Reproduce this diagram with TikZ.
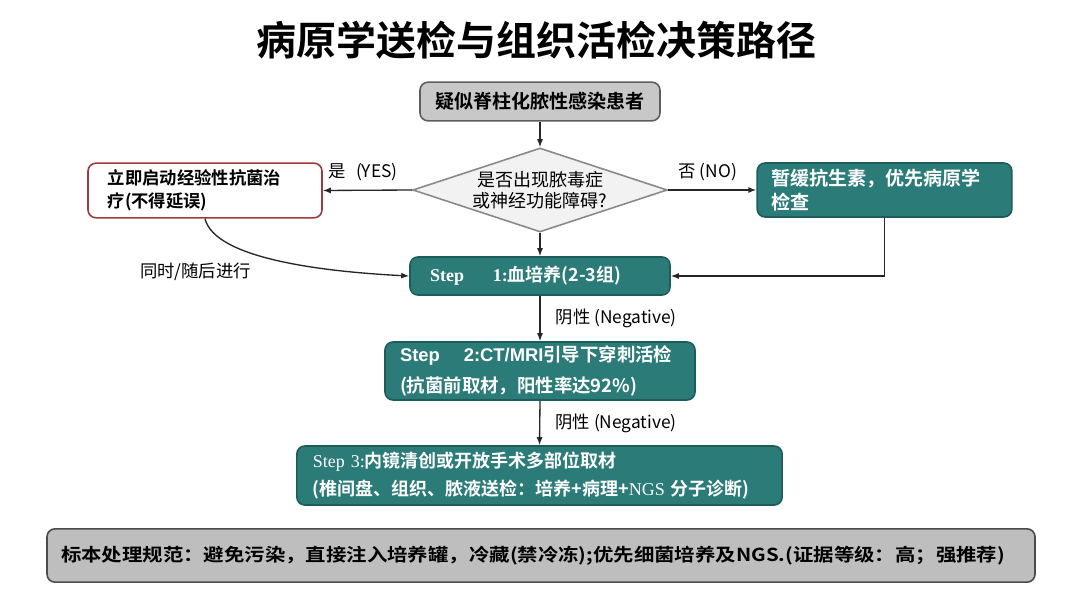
\documentclass[tikz,border=0pt]{standalone}
\usepackage{fontspec}
\setmainfont{Noto Sans CJK SC}[BoldFont={Noto Sans CJK SC Bold}]
\newfontfamily\enserif{Liberation Serif}
\newfontfamily\ensans{Liberation Sans}
\usetikzlibrary{shapes.geometric,arrows.meta}
\definecolor{teal1}{HTML}{2B7B79}
\definecolor{teal2}{HTML}{1E5C5A}
\definecolor{grayfill}{HTML}{C8C8C8}
\definecolor{grayline}{HTML}{5E5E5E}
\definecolor{redline}{HTML}{A03A3A}
\definecolor{diafill}{HTML}{F2F2F2}
\definecolor{dialine}{HTML}{8A8A8A}
\tikzset{
  box/.style={rounded corners=6pt, line width=1.2pt, inner ysep=0pt},
  tealbox/.style={box, draw=teal2, fill=teal1, text=white, font=\bfseries\fontsize{13.5}{21}\selectfont, align=left},
  graybox/.style={box, draw=grayline, fill=grayfill},
  conn/.style={line width=1pt, draw=black!85, -{Latex[length=6pt,width=4.5pt]}},
  lbl/.style={font=\fontsize{13}{15}\selectfont, text=black},
}
\begin{document}
\begin{tikzpicture}[x=0.75pt,y=-0.75pt]
\useasboundingbox (0,0) rectangle (1080,602);
\fill[white] (0,0) rectangle (1080,602);

\node[font=\bfseries\fontsize{30}{32}\selectfont] (title) at (536,40) {病原学送检与组织活检决策路径};

\node[graybox, minimum width=180pt, minimum height=29pt, font=\bfseries\fontsize{14.3}{16}\selectfont] (start) at (540,101.5) {疑似脊柱化脓性感染患者};

\node[diamond, draw=dialine, fill=diafill, line width=1.2pt, minimum width=191pt, minimum height=63pt, inner sep=0pt,
  label={[font=\fontsize{13.5}{16}\selectfont, align=center]center:{是否出现脓毒症\\或神经功能障碍?}}] (dec) at (540,190) {};

\node[box, draw=redline, fill=white, minimum width=175.5pt, minimum height=41pt, text width=146pt, inner xsep=14pt,
  align=left, font=\bfseries\fontsize{13}{17}\selectfont] (emp) at (205,190.5) {立即启动经验性抗菌治\\疗(不得延误)};

\node[tealbox, minimum width=191pt, minimum height=40.5pt, text width=170pt, inner xsep=10.5pt,
  font=\bfseries\fontsize{14.3}{18}\selectfont] (defer) at (884.5,190) {暂缓抗生素，优先病原学\\检查};

\node[tealbox, minimum width=195pt, minimum height=28.5pt, text width=165pt, inner xsep=15pt] (s1) at (540,276)
  {{\enserif Step}\hspace{1.6em}{\enserif 1:}血培养(2-3组)};

\node[tealbox, minimum width=232.5pt, minimum height=43.5pt, text width=210pt, inner xsep=11.25pt,
  font=\bfseries\fontsize{13.8}{23}\selectfont] (s2) at (540,371)
  {{\ensans Step}\hspace{1.3em}{\ensans 2:CT/MRI}引导下穿刺活检\\(抗菌前取材，阳性率达92\%)};

\node[tealbox, minimum width=363.75pt, minimum height=44.25pt, text width=340pt, inner xsep=12pt] (s3) at (539.5,475.5)
  {{\enserif\mdseries Step 3:}内镜清创或开放手术多部位取材\\(椎间盘、组织、脓液送检：培养+病理+{\enserif\mdseries NGS} 分子诊断)};

\node[graybox, draw=grayline!80!black, fill=grayfill!95!black, minimum width=741pt, minimum height=40pt, text width=720pt, inner xsep=10.5pt, align=left] (spec) at (541,555.5)
  {\resizebox{708pt}{11.5pt}{\bfseries 标本处理规范：避免污染，直接注入培养罐，冷藏(禁冷冻);优先细菌培养及NGS.(证据等级：高；强推荐)}};

% connectors
\draw[conn] (start.south) -- (dec.north);
\draw[conn] (dec.west) -- node[lbl, above, pos=0.55, yshift=3pt] {是\hspace{0.6em}(YES)} (emp.east);
\draw[conn] (dec.east) -- node[lbl, above, pos=0.45, yshift=3pt] {否 (NO)} (defer.west);
\draw[conn] (dec.south) -- (s1.north);
\draw[conn] (emp.south) .. controls (215,260) and (330,272) .. node[lbl, pos=0.35, below left, xshift=6pt, yshift=-4pt] {同时/随后进行} (s1.west);
\coordinate (c1) at (defer.south |- s1.east);
\draw[conn] (defer.south) -- (c1) -- (s1.east);
\draw[conn] (s1.south) -- node[lbl, right, xshift=8pt] {阴性 (Negative)} (s2.north);
\draw[conn] (s2.south) -- node[lbl, right, xshift=8pt] {阴性 (Negative)} (s3.north);
\end{tikzpicture}
\end{document}
